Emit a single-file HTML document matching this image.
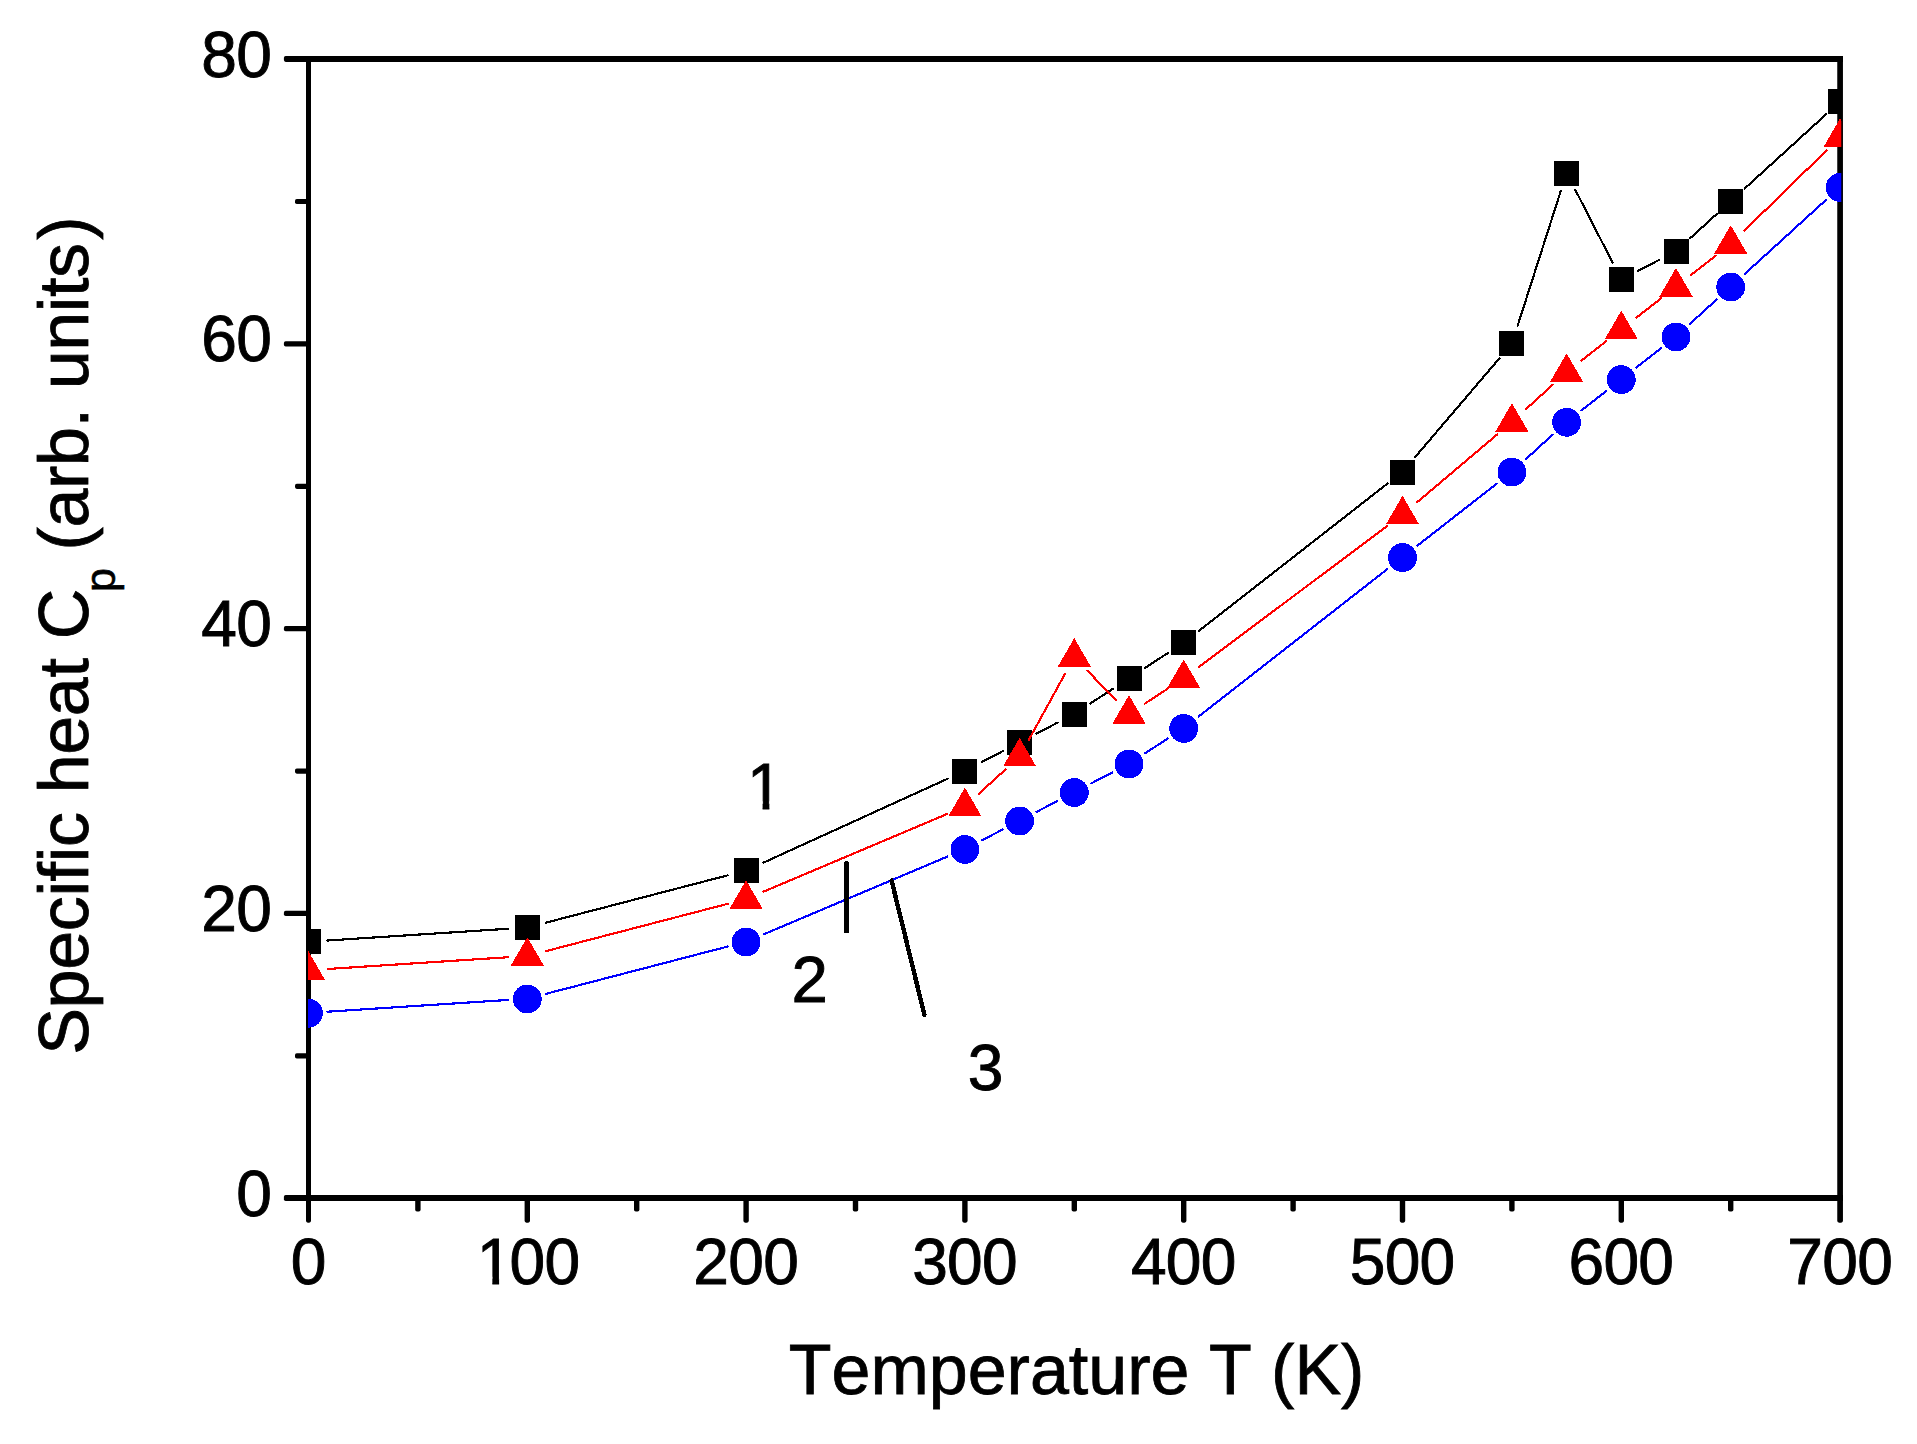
<!DOCTYPE html>
<html lang="en"><head><meta charset="utf-8"><title>Specific heat vs temperature</title>
<style>html,body{margin:0;padding:0;background:#fff}body{width:1917px;height:1444px;overflow:hidden}svg{display:block}text{font-family:"Liberation Sans",Arial,Helvetica,sans-serif;fill:#000;font-kerning:none;font-variant-ligatures:none}</style>
</head><body>
<svg width="1917" height="1444" viewBox="0 0 1917 1444">
<rect x="0" y="0" width="1917" height="1444" fill="#fff"/>
<defs><clipPath id="plot"><rect x="308" y="40" width="1533.3" height="1180"/></clipPath><clipPath id="c0"><path clip-rule="evenodd" d="M-20 -65.4H147.62V20H-20ZM-20 -7.54H18.14V20H-20ZM25.02 -7.54H38.32V20H25.02Z"/></clipPath><clipPath id="c1"><path clip-rule="evenodd" d="M-20 -65.4H76.37V20H-20ZM-20 -7.54H18.14V20H-20ZM25.02 -7.54H76.37V20H25.02Z"/></clipPath></defs>
<g fill="none" stroke="#000" stroke-linecap="butt">
<line x1="308.5" y1="55.9" x2="308.5" y2="1201.05" stroke-width="5"/>
<line x1="1840.1" y1="55.9" x2="1840.1" y2="1201.05" stroke-width="5.7"/>
<line x1="306" y1="58.9" x2="1842.95" y2="58.9" stroke-width="6"/>
<line x1="306" y1="1198.05" x2="1842.95" y2="1198.05" stroke-width="6"/>
</g>
<g fill="#000"><rect x="283.9" y="1195.05" width="25.6" height="6" rx="1.8"/><rect x="295" y="1053.26" width="14.5" height="5.2" rx="1.8"/><rect x="283.9" y="910.86" width="25.6" height="5.2" rx="1.8"/><rect x="295" y="768.47" width="14.5" height="5.2" rx="1.8"/><rect x="283.9" y="626.08" width="25.6" height="5.2" rx="1.8"/><rect x="295" y="483.68" width="14.5" height="5.2" rx="1.8"/><rect x="283.9" y="341.29" width="25.6" height="5.2" rx="1.8"/><rect x="295" y="198.89" width="14.5" height="5.2" rx="1.8"/><rect x="283.9" y="55.9" width="25.6" height="6" rx="1.8"/><rect x="306" y="1197.05" width="5" height="25.6" rx="1.8"/><rect x="415.2" y="1197.05" width="5.4" height="14.5" rx="1.8"/><rect x="524.6" y="1197.05" width="5.4" height="25.6" rx="1.8"/><rect x="634" y="1197.05" width="5.4" height="14.5" rx="1.8"/><rect x="743.4" y="1197.05" width="5.4" height="25.6" rx="1.8"/><rect x="852.8" y="1197.05" width="5.4" height="14.5" rx="1.8"/><rect x="962.2" y="1197.05" width="5.4" height="25.6" rx="1.8"/><rect x="1071.6" y="1197.05" width="5.4" height="14.5" rx="1.8"/><rect x="1181" y="1197.05" width="5.4" height="25.6" rx="1.8"/><rect x="1290.4" y="1197.05" width="5.4" height="14.5" rx="1.8"/><rect x="1399.8" y="1197.05" width="5.4" height="25.6" rx="1.8"/><rect x="1509.2" y="1197.05" width="5.4" height="14.5" rx="1.8"/><rect x="1618.6" y="1197.05" width="5.4" height="25.6" rx="1.8"/><rect x="1728" y="1197.05" width="5.4" height="14.5" rx="1.8"/><rect x="1837.25" y="1197.05" width="5.7" height="25.6" rx="1.8"/></g>
<text transform="translate(236.26 1215.65) scale(0.98 1)" font-size="65.4" stroke="#000" stroke-width="0.9" letter-spacing="-0.75">0</text>
<text transform="translate(201.35 930.86) scale(0.98 1)" font-size="65.4" stroke="#000" stroke-width="0.9" letter-spacing="-0.75">20</text>
<text transform="translate(201.35 646.08) scale(0.98 1)" font-size="65.4" stroke="#000" stroke-width="0.9" letter-spacing="-0.75">40</text>
<text transform="translate(201.35 361.29) scale(0.98 1)" font-size="65.4" stroke="#000" stroke-width="0.9" letter-spacing="-0.75">60</text>
<text transform="translate(201.35 76.5) scale(0.98 1)" font-size="65.4" stroke="#000" stroke-width="0.9" letter-spacing="-0.75">80</text>
<text transform="translate(290.68 1284.4) scale(0.98 1)" font-size="65.4" stroke="#000" stroke-width="0.9" letter-spacing="-0.75">0</text>
<g transform="translate(474.57 1284.4) scale(0.98 1)" font-size="65.4" stroke="#000" stroke-width="0.9" letter-spacing="-0.75"><text x="2.24" y="0" clip-path="url(#c0)">1<tspan dx="-2.24">00</tspan></text></g>
<text transform="translate(693.37 1284.4) scale(0.98 1)" font-size="65.4" stroke="#000" stroke-width="0.9" letter-spacing="-0.75">200</text>
<text transform="translate(912.17 1284.4) scale(0.98 1)" font-size="65.4" stroke="#000" stroke-width="0.9" letter-spacing="-0.75">300</text>
<text transform="translate(1130.97 1284.4) scale(0.98 1)" font-size="65.4" stroke="#000" stroke-width="0.9" letter-spacing="-0.75">400</text>
<text transform="translate(1349.77 1284.4) scale(0.98 1)" font-size="65.4" stroke="#000" stroke-width="0.9" letter-spacing="-0.75">500</text>
<text transform="translate(1568.57 1284.4) scale(0.98 1)" font-size="65.4" stroke="#000" stroke-width="0.9" letter-spacing="-0.75">600</text>
<text transform="translate(1787.37 1284.4) scale(0.98 1)" font-size="65.4" stroke="#000" stroke-width="0.9" letter-spacing="-0.75">700</text>
<text x="1076.6" y="1393.9" font-size="70" text-anchor="middle" stroke="#000" stroke-width="0.8">Temperature T (K)</text>
<text transform="translate(88.4 1054.8) rotate(-90)" font-size="70" stroke="#000" stroke-width="0.8"><tspan x="0" y="0" letter-spacing="-0.34">Specific heat C</tspan><tspan x="462.9" y="26.2" font-size="43" stroke-width="0.6">p</tspan><tspan x="485.2" y="0" letter-spacing="-0.36"> (arb. units</tspan><tspan dx="3.4">)</tspan></text>
<g clip-path="url(#plot)" shape-rendering="crispEdges">
<path d="M327.46 940.51L508.34 928.74M545.69 922.72L727.71 875.33M763.39 862.67L947.61 778.75M981.75 762.09L1002.75 751.16M1036.45 733.62L1057.45 722.69M1090.22 703.55L1113.08 688.68M1144.92 667.95L1167.78 653.08M1198.67 631.02L1387.53 483.54M1414.84 457.39L1499.56 358.14M1517.69 325.59L1560.81 190.91M1575.26 189.73L1612.64 262.7M1638.15 270.84L1659.15 259.91M1690.04 238.34L1716.66 214.09M1744.74 188.5L1826.06 114.41" fill="none" stroke="#000" stroke-width="2.15" stroke-linecap="round"/>
<g fill="#000">
<rect x="296" y="929.44" width="25" height="25"/>
<rect x="514.8" y="915.2" width="25" height="25"/>
<rect x="733.6" y="858.24" width="25" height="25"/>
<rect x="952.4" y="758.57" width="25" height="25"/>
<rect x="1007.1" y="730.09" width="25" height="25"/>
<rect x="1061.8" y="701.61" width="25" height="25"/>
<rect x="1116.5" y="666.01" width="25" height="25"/>
<rect x="1171.2" y="630.41" width="25" height="25"/>
<rect x="1390" y="459.54" width="25" height="25"/>
<rect x="1499.4" y="331.39" width="25" height="25"/>
<rect x="1554.1" y="160.52" width="25" height="25"/>
<rect x="1608.8" y="267.31" width="25" height="25"/>
<rect x="1663.5" y="238.83" width="25" height="25"/>
<rect x="1718.2" y="188.99" width="25" height="25"/>
<rect x="1827.6" y="89.32" width="25" height="25"/>
</g></g>
<g clip-path="url(#plot)" shape-rendering="crispEdges">
<path d="M327.46 968.99L508.34 957.21M545.69 951.19L727.71 903.81M763.6 891.62L947.4 813.87M978.94 793.67L1005.56 769.43M1028.74 739.97L1065.16 673.61M1087.46 670.66L1115.84 700.21M1144.92 703.55L1167.78 688.68M1198.91 666.93L1387.29 525.94M1417.01 502.29L1497.39 434.28M1525.94 409.21L1552.56 384.96M1581.57 360.47L1606.33 341.14M1636.27 317.75L1661.03 298.42M1690.97 275.04L1715.73 255.71M1744.3 230.74L1826.5 150.49" fill="none" stroke="#f00" stroke-width="2.15" stroke-linecap="round"/>
<g fill="#f00">
<path d="M308.5 951.42L325.1 980.02L291.9 980.02Z"/>
<path d="M527.3 937.18L543.9 965.78L510.7 965.78Z"/>
<path d="M746.1 880.22L762.7 908.82L729.5 908.82Z"/>
<path d="M964.9 787.67L981.5 816.27L948.3 816.27Z"/>
<path d="M1019.6 737.83L1036.2 766.43L1003 766.43Z"/>
<path d="M1074.3 638.15L1090.9 666.75L1057.7 666.75Z"/>
<path d="M1129 695.11L1145.6 723.71L1112.4 723.71Z"/>
<path d="M1183.7 659.51L1200.3 688.11L1167.1 688.11Z"/>
<path d="M1402.5 495.76L1419.1 524.36L1385.9 524.36Z"/>
<path d="M1511.9 403.2L1528.5 431.8L1495.3 431.8Z"/>
<path d="M1566.6 353.37L1583.2 381.97L1550 381.97Z"/>
<path d="M1621.3 310.65L1637.9 339.25L1604.7 339.25Z"/>
<path d="M1676 267.93L1692.6 296.53L1659.4 296.53Z"/>
<path d="M1730.7 225.21L1747.3 253.81L1714.1 253.81Z"/>
<path d="M1840.1 118.42L1856.7 147.02L1823.5 147.02Z"/>
</g></g>
<g clip-path="url(#plot)" shape-rendering="crispEdges">
<path d="M327.46 1011.7L508.34 999.93M545.69 993.91L727.71 946.53M763.6 934.34L947.4 856.59M981.75 840.41L1002.75 829.48M1036.45 811.93L1057.45 801M1091.15 783.45L1112.15 772.52M1144.92 753.39L1167.78 738.51M1198.67 716.46L1387.53 568.97M1417.47 545.58L1496.93 483.54M1525.94 459.05L1552.56 434.8M1581.57 410.31L1606.33 390.98M1636.27 367.59L1661.03 348.26M1690.04 323.77L1716.66 299.53M1744.74 273.93L1826.06 199.85" fill="none" stroke="#00f" stroke-width="2.15" stroke-linecap="round"/>
<g fill="#00f">
<circle cx="308.5" cy="1013.24" r="14.4"/>
<circle cx="527.3" cy="999" r="14.4"/>
<circle cx="746.1" cy="942.04" r="14.4"/>
<circle cx="964.9" cy="849.49" r="14.4"/>
<circle cx="1019.6" cy="821.01" r="14.4"/>
<circle cx="1074.3" cy="792.53" r="14.4"/>
<circle cx="1129" cy="764.05" r="14.4"/>
<circle cx="1183.7" cy="728.45" r="14.4"/>
<circle cx="1402.5" cy="557.58" r="14.4"/>
<circle cx="1511.9" cy="472.14" r="14.4"/>
<circle cx="1566.6" cy="422.3" r="14.4"/>
<circle cx="1621.3" cy="379.59" r="14.4"/>
<circle cx="1676" cy="336.87" r="14.4"/>
<circle cx="1730.7" cy="287.03" r="14.4"/>
<circle cx="1840.1" cy="187.35" r="14.4"/>
</g></g>
<g stroke="#000" fill="none" stroke-linecap="round" shape-rendering="crispEdges">
<line x1="846.6" y1="863.5" x2="846.6" y2="931" stroke-width="5"/>
<line x1="891.6" y1="880.5" x2="924.4" y2="1014.8" stroke-width="4.4"/>
</g>
<g transform="translate(744.82 808.7) scale(0.98 1)" font-size="65.4" stroke="#000" stroke-width="0.9"><text x="2.24" y="0" clip-path="url(#c1)">1</text></g>
<text transform="translate(791.56 1001.8) scale(1 1)" font-size="65.4" stroke="#000" stroke-width="0.9">2</text>
<text transform="translate(967.65 1090) scale(0.98 1)" font-size="65.4" stroke="#000" stroke-width="0.9">3</text>
</svg></body></html>
